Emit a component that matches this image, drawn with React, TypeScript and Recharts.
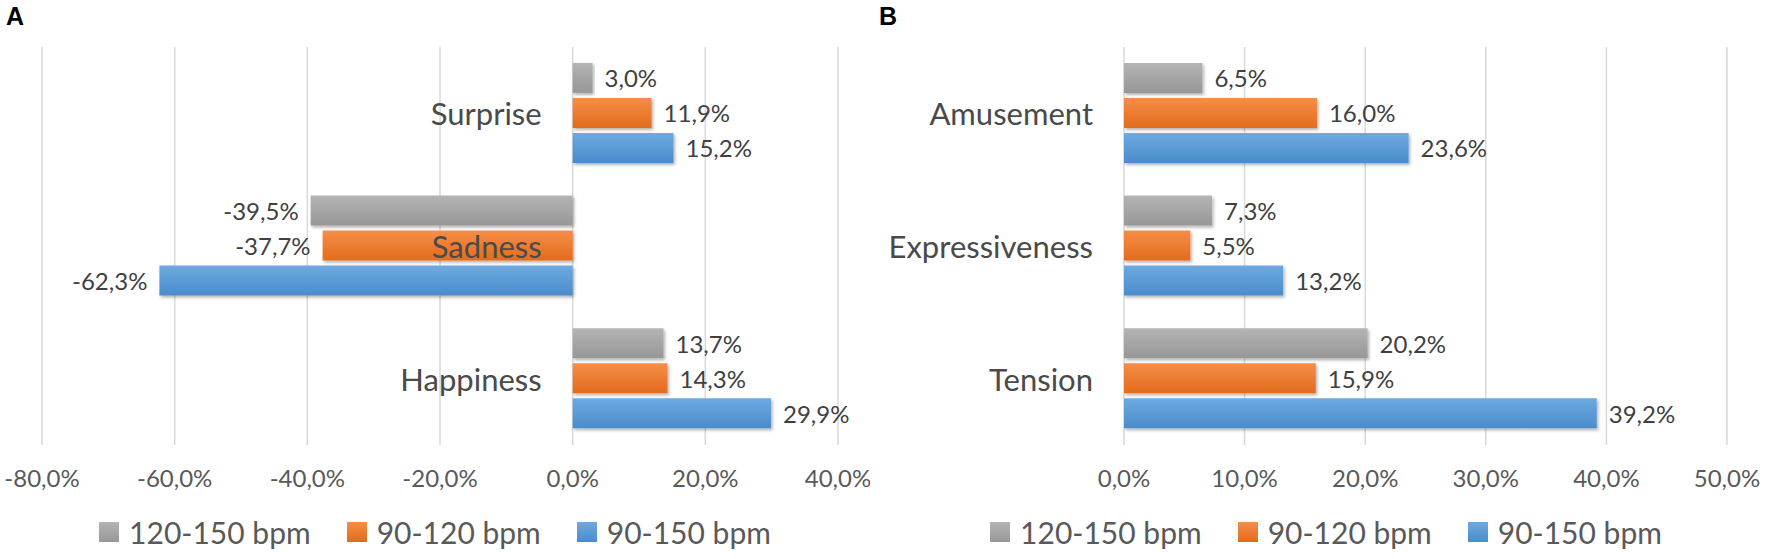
import React from "react";
import { BarChart, Bar, XAxis, YAxis, CartesianGrid, LabelList, Legend } from "recharts";

// series (top to bottom inside each group)
const seriesNames = ["120-150 bpm", "90-120 bpm", "90-150 bpm"];
const seriesKeys = ["s120_150", "s90_120", "s90_150"];
const seriesTop = ["#b4b4b4", "#f68e48", "#6eaae0"];
const seriesBottom = ["#979797", "#e26b1d", "#4a8bcb"];

// panel A
const emotionsA = ["Surprise", "Sadness", "Happiness"];
const a120_150 = [3.0, -39.5, 13.7];
const a90_120 = [11.9, -37.7, 14.3];
const a90_150 = [15.2, -62.3, 29.9];
const ticksA = [-80, -60, -40, -20, 0, 20, 40];

// panel B
const emotionsB = ["Amusement", "Expressiveness", "Tension"];
const b120_150 = [6.5, 7.3, 20.2];
const b90_120 = [16.0, 5.5, 15.9];
const b90_150 = [23.6, 13.2, 39.2];
const ticksB = [0, 10, 20, 30, 40, 50];

const FONT = "Lato, 'Open Sans', sans-serif";
const fmt = (v: number) => v.toFixed(1).replace(".", ",") + "%";

const buildRows = (cats: string[], cols: number[][]) =>
  cats.map((name, i) => {
    const row: any = { name };
    seriesKeys.forEach((k, j) => (row[k] = cols[j][i]));
    return row;
  });

const renderValue = (props: any) => {
  const { x, y, width, height, value } = props;
  const left = Math.min(x, x + width);
  const right = Math.max(x, x + width);
  const neg = value < 0;
  return (
    <text
      x={neg ? left - 12 : right + 12}
      y={y + height / 2}
      textAnchor={neg ? "end" : "start"}
      dominantBaseline="central"
      fontSize={24}
      fontFamily={FONT}
      fill="#404040"
    >
      {fmt(value)}
    </text>
  );
};

const LegendContent = ({ payload }: any) => (
  <div style={{ display: "flex", justifyContent: "center", alignItems: "center", gap: 36 }}>
    {(payload || []).map((e: any) => {
      const idx = seriesKeys.indexOf(e.dataKey);
      return (
        <div key={e.value} style={{ display: "flex", alignItems: "center" }}>
          <span
            style={{
              display: "inline-block",
              width: 20,
              height: 20,
              marginRight: 10,
              background: `linear-gradient(${seriesTop[idx]}, ${seriesBottom[idx]})`,
            }}
          />
          <span style={{ fontSize: 30, color: "#595959", fontFamily: FONT, lineHeight: "36px" }}>
            {e.value}
          </span>
        </div>
      );
    })}
  </div>
);

const CategoryTick = (props: any) => {
  const { x, y, payload, shift } = props;
  return (
    <text
      x={x + shift}
      y={y}
      textAnchor="end"
      dominantBaseline="central"
      fontSize={31}
      fontFamily={FONT}
      fill="#4a4a4a"
    >
      {payload.value}
    </text>
  );
};

interface PanelProps {
  id: string;
  width: number;
  rows: any[];
  ticks: number[];
  margin: { top: number; right: number; left: number; bottom: number };
}

const Panel = ({ id, width, rows, ticks, margin }: PanelProps) => {
  const min = ticks[0];
  const max = ticks[ticks.length - 1];
  const yw = 2;
  const plotW = width - margin.left - margin.right - yw;
  const zeroShift = ((0 - min) / (max - min)) * plotW - 33;

  return (
    <BarChart
      width={width}
      height={559}
      data={rows}
      layout="vertical"
      margin={margin}
      barCategoryGap="12%"
      barGap={5}
    >
      <defs>
        {seriesKeys.map((k, i) => (
          <linearGradient key={k} id={`g-${id}-${k}`} x1="0" y1="0" x2="0" y2="1">
            <stop offset="0%" stopColor={seriesTop[i]} />
            <stop offset="100%" stopColor={seriesBottom[i]} />
          </linearGradient>
        ))}
        <filter id={`sh-${id}`} x="-5%" y="-20%" width="115%" height="160%">
          <feDropShadow dx="1.5" dy="2" stdDeviation="1.5" floodColor="#000" floodOpacity="0.3" />
        </filter>
      </defs>
      <CartesianGrid horizontal={false} stroke="#d9d9d9" strokeWidth={1.5} />
      <XAxis
        type="number"
        domain={[min, max]}
        ticks={ticks}
        tickFormatter={(v: number) => fmt(v)}
        axisLine={false}
        tickLine={false}
        tickSize={0}
        tickMargin={25}
        height={50}
        tick={{ fontSize: 24, fill: "#595959", fontFamily: FONT }}
      />
      {seriesKeys.map((k, i) => (
        <Bar
          key={k}
          dataKey={k}
          name={seriesNames[i]}
          fill={`url(#g-${id}-${k})`}
          filter={`url(#sh-${id})`}
          isAnimationActive={false}
        >
          <LabelList dataKey={k} content={renderValue} />
        </Bar>
      ))}
      <YAxis
        type="category"
        dataKey="name"
        width={yw}
        axisLine={false}
        tickLine={false}
        tickSize={0}
        tickMargin={0}
        interval={0}
        tick={<CategoryTick shift={zeroShift + yw} />}
      />
      <Legend
        verticalAlign="bottom"
        content={<LegendContent />}
        wrapperStyle={{ left: 0, width: width, bottom: 9 }}
      />
    </BarChart>
  );
};

const letterStyle: React.CSSProperties = {
  position: "absolute",
  top: 4,
  fontFamily: "'Liberation Sans', Arial, sans-serif",
  fontWeight: "bold",
  fontSize: 25,
  lineHeight: "25px",
  color: "#000",
};

export default function App() {
  const rowsA = buildRows(emotionsA, [a120_150, a90_120, a90_150]);
  const rowsB = buildRows(emotionsB, [b120_150, b90_120, b90_150]);
  return (
    <div style={{ position: "absolute", left: 0, top: 0, width: 1772, height: 559, background: "#fff" }}>
      <div style={{ position: "absolute", left: 0, top: 0 }}>
        <Panel id="A" width={870} rows={rowsA} ticks={ticksA} margin={{ top: 47, right: 32, left: 40, bottom: 28 }} />
      </div>
      <div style={{ position: "absolute", left: 880, top: 0 }}>
        <Panel id="B" width={892} rows={rowsB} ticks={ticksB} margin={{ top: 47, right: 45, left: 242, bottom: 28 }} />
      </div>
      <div style={{ ...letterStyle, left: 6 }}>A</div>
      <div style={{ ...letterStyle, left: 879 }}>B</div>
    </div>
  );
}
